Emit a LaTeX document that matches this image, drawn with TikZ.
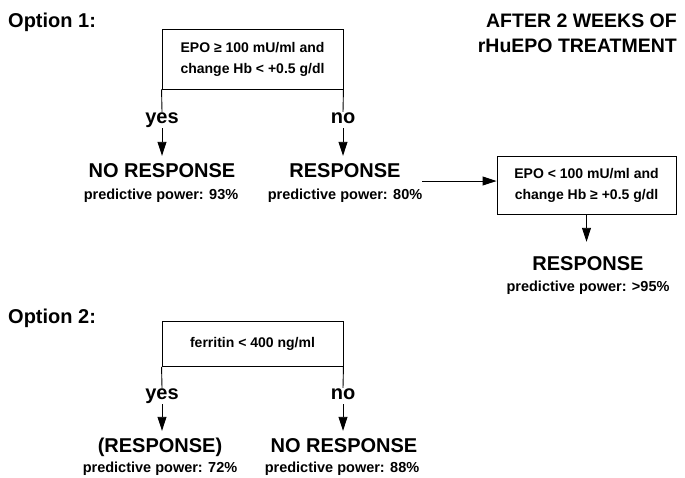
\documentclass[tikz,border=0pt]{standalone}
\usepackage{fontspec}
\setmainfont{Liberation Sans}
\usetikzlibrary{arrows.meta}
\begin{document}
\begin{tikzpicture}[x=1pt,y=-1pt,
  lab/.style={font=\bfseries\fontsize{20}{24}\selectfont, inner sep=0pt, text height=14pt, text depth=0pt, anchor=base},
  yn/.style={font=\bfseries\fontsize{20}{24}\selectfont, inner xsep=0pt, inner ysep=1pt, text height=10pt, text depth=4pt, anchor=base},
  pp/.style={font=\bfseries\fontsize{14.5}{17}\selectfont, inner sep=0pt, anchor=base},
  opt/.style={font=\bfseries\fontsize{20}{24}\selectfont, inner sep=0pt, anchor=base west},
  ttl/.style={font=\bfseries\fontsize{19.5}{22}\selectfont, inner sep=0pt, anchor=base east},
  cond/.style={draw, line width=0.9pt, font=\bfseries\fontsize{14}{21}\selectfont, align=center, inner sep=0pt},
  wire/.style={line width=0.9pt},
  arr/.style={line width=0.9pt, -{Triangle[length=14pt,width=9pt]}},
]
\useasboundingbox (0,0) rectangle (685,477);

% titles
\node[opt] (opt1) at (8,27) {Option 1:};
\node[opt] (opt2) at (8,323) {Option 2:};
\node[ttl] (t1) at (677,27) {AFTER 2 WEEKS OF};
\node[ttl] (t2) at (677,52) {rHuEPO TREATMENT};

% option 1
\node[cond, minimum width=181pt, minimum height=60pt] (box1) at (252.5,59)
  {EPO ≥ 100 mU/ml and\\change Hb < +0.5 g/dl};
\node[yn] (yes1) at (162,123) {yes};
\node[yn] (no1) at (343,123) {no};
\node[lab] (nores1) at (162,177) {NO RESPONSE};
\node[pp] (pp1) at (161,199) {predictive power: 93\%};
\node[lab] (res1) at (345,177) {RESPONSE};
\node[pp] (pp2) at (345,199) {predictive power: 80\%};

\draw[wire] (box1.south west) -- (yes1.north);
\draw[wire] (box1.south east) -- (no1.north);
\draw[arr, shorten >=7pt] (yes1.south) -- (nores1.north);
\draw[arr, shorten >=7pt] (no1.south) -- (no1.south |- res1.north);

\node[cond, minimum width=179pt, minimum height=58pt] (box2) at (586.5,185)
  {EPO < 100 mU/ml and\\change Hb ≥ +0.5 g/dl};
\coordinate (a) at (422,181);
\draw[arr] (a) -- (a -| box2.west);
\node[lab] (res2) at (588,270) {RESPONSE};
\node[pp] (pp3) at (588,291) {predictive power: >95\%};
\draw[arr, shorten >=14pt] (box2.south) -- (box2.south |- res2.north);

% option 2
\node[cond, minimum width=181pt, minimum height=45pt] (box3) at (252.5,344)
  {ferritin < 400 ng/ml};
\node[yn] (yes3) at (162,399) {yes};
\node[yn] (no3) at (343,399) {no};
\node[lab] (res3) at (160,452) {(RESPONSE)};
\node[pp] (pp4) at (160,472) {predictive power: 72\%};
\node[lab] (nores3) at (344,452) {NO RESPONSE};
\node[pp] (pp5) at (342,472) {predictive power: 88\%};

\draw[wire] (box3.south west) -- (yes3.north);
\draw[wire] (box3.south east) -- (no3.north);
\draw[arr, shorten >=7pt] (yes3.south) -- (yes3.south |- res3.north);
\draw[arr, shorten >=7pt] (no3.south) -- (no3.south |- nores3.north);
\end{tikzpicture}
\end{document}
